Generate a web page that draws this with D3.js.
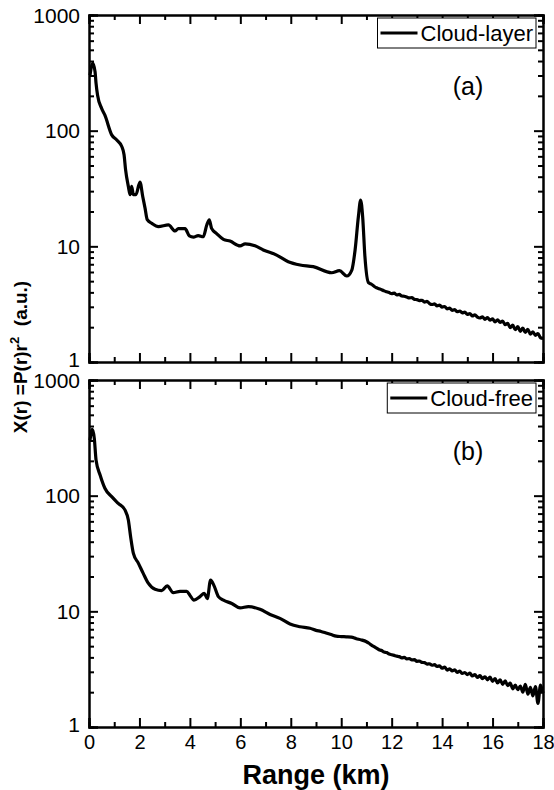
<!DOCTYPE html>
<html>
<head>
<meta charset="utf-8">
<script src="https://cdn.jsdelivr.net/npm/d3@7"></script>
<style>
  body { margin: 0; background: #fff; }
  svg { display: block; font-family: "Liberation Sans", Arial, sans-serif; }
</style>
</head>
<body>
<div id="chart"></div>
<script>
// range (km) and X(r) values, cloud-layer profile (a)
const rangeLayer = [0.04, 0.15, 0.24, 0.28, 0.34, 0.5, 0.63, 0.9, 1.1, 1.3, 1.39, 1.45, 1.56, 1.63, 1.69, 1.76, 1.86, 2.02, 2.13, 2.22, 2.31, 2.49, 2.75, 3.15, 3.41, 3.54, 3.81, 3.98, 4.14, 4.33, 4.53, 4.67, 4.77, 4.86, 5.06, 5.33, 5.59, 5.99, 6.19, 6.58, 6.91, 7.44, 7.9, 8.37, 8.89, 9.62, 9.93, 10.22, 10.42, 10.55, 10.68, 10.77, 10.85, 10.94, 11.08,
  11.2, 11.3, 11.4, 11.5, 11.6, 11.7, 11.8, 11.9, 12.0, 12.1, 12.2, 12.3, 12.4, 12.5, 12.6, 12.7, 12.8, 12.9, 13.0, 13.1, 13.2, 13.3, 13.4, 13.5, 13.6, 13.7, 13.8, 13.9, 14.0, 14.1, 14.2, 14.3, 14.4, 14.5, 14.6, 14.7, 14.8, 14.9, 15.0, 15.1, 15.2, 15.3, 15.4, 15.5, 15.6, 15.7, 15.8, 15.9, 16.0, 16.1, 16.2, 16.3, 16.4, 16.5, 16.6, 16.7, 16.8, 16.9, 17.0, 17.1, 17.2, 17.3, 17.4, 17.5, 17.6, 17.7, 17.8, 17.9, 18.0]
const cloudLayer = [302, 382, 323, 256, 202, 156, 136, 92, 83, 73, 62, 46, 33, 28, 33, 28, 28, 36, 27, 21.5, 17, 15.8, 14.8, 15.3, 13.6, 14.2, 14.2, 12.3, 12.0, 12.4, 12.1, 15.3, 16.9, 14.3, 12.9, 11.5, 11.1, 10.1, 10.5, 10.1, 9.3, 8.4, 7.36, 6.89, 6.67, 5.91, 6.16, 5.54, 6.24, 9.3, 18, 25.1, 18, 8.13, 4.85,
  4.70, 4.52, 4.38, 4.30, 4.22, 4.12, 4.05, 3.98, 3.90, 3.94, 3.80, 3.84, 3.72, 3.70, 3.64, 3.58, 3.60, 3.48, 3.46, 3.40, 3.42, 3.30, 3.34, 3.20, 3.14, 3.18, 3.06, 3.10, 2.98, 3.02, 2.88, 2.92, 2.80, 2.84, 2.72, 2.76, 2.66, 2.70, 2.58, 2.62, 2.50, 2.56, 2.44, 2.40, 2.46, 2.34, 2.42, 2.30, 2.36, 2.22, 2.32, 2.20, 2.26, 2.10, 2.16, 1.98, 2.08, 1.90, 2.02, 1.84, 1.96, 1.80, 1.92, 1.74, 1.82, 1.70, 1.76, 1.62, 1.60]

// cloud-free profile (b)
const rangeFree = [0.04, 0.13, 0.21, 0.28, 0.44, 0.63, 0.9, 1.16, 1.43, 1.56, 1.65, 1.76, 1.96, 2.15, 2.35, 2.62, 2.88, 3.1, 3.34, 3.61, 3.87, 4.0, 4.16, 4.4, 4.57, 4.69, 4.82, 4.96, 5.13, 5.33, 5.66, 5.99, 6.32, 6.78, 7.18, 7.57, 7.97, 8.37, 8.76,
  9.0, 9.2, 9.4, 9.6, 9.8, 10.0, 10.2, 10.4, 10.6, 10.8, 11.0, 11.1, 11.2, 11.3, 11.4, 11.5, 11.6, 11.7, 11.8, 11.9, 12.0, 12.1, 12.2, 12.3, 12.4, 12.5, 12.6, 12.7, 12.8, 12.9, 13.0, 13.1, 13.2, 13.3, 13.4, 13.5, 13.6, 13.7, 13.8, 13.9, 14.0, 14.1, 14.2, 14.3, 14.4, 14.5, 14.6, 14.7, 14.8, 14.9, 15.0, 15.1, 15.2, 15.3, 15.4, 15.5, 15.6, 15.7, 15.8, 15.9, 16.0, 16.1, 16.2, 16.3, 16.4, 16.5, 16.6, 16.7, 16.8, 16.9, 17.0, 17.1, 17.2, 17.3, 17.4, 17.5, 17.6, 17.7, 17.8, 17.9, 18.0]
const cloudFree = [302, 374, 313, 203, 151, 116, 98, 85.7, 75, 61.5, 44.2, 31.7, 26, 21.3, 17.5, 15.5, 15.1, 16.6, 14.5, 14.9, 14.9, 13.8, 12.5, 13.4, 14.3, 12.9, 18.6, 16.6, 13.4, 12.5, 11.7, 10.7, 11.0, 10.4, 9.4, 8.7, 7.77, 7.36, 7.13,
  6.85, 6.70, 6.50, 6.30, 6.10, 6.05, 6.02, 5.98, 5.80, 5.66, 5.46, 5.30, 5.10, 4.95, 4.80, 4.66, 4.58, 4.44, 4.40, 4.28, 4.22, 4.16, 4.10, 4.06, 3.96, 4.00, 3.88, 3.90, 3.80, 3.82, 3.70, 3.72, 3.62, 3.60, 3.50, 3.52, 3.42, 3.46, 3.34, 3.38, 3.22, 3.30, 3.10, 3.18, 3.06, 3.12, 2.96, 3.04, 2.90, 2.96, 2.84, 2.92, 2.76, 2.84, 2.68, 2.78, 2.62, 2.72, 2.56, 2.70, 2.48, 2.62, 2.40, 2.56, 2.34, 2.50, 2.28, 2.40, 2.14, 2.30, 2.10, 2.26, 2.00, 2.34, 1.92, 2.20, 1.86, 2.24, 1.60, 2.30, 1.96]

const xTicks = [0, 2, 4, 6, 8, 10, 12, 14, 16, 18]
const xMinor = [1, 3, 5, 7, 9, 11, 13, 15, 17]
const yTicks = [1, 10, 100, 1000]
const panelNames = ['Cloud-layer', 'Cloud-free']
const panelTags = ['(a)', '(b)']

var width     = 554,
    height    = 790,
    left      = 89,
    right     = 543,
    panelTop  = [15, 380],
    panelH    = 347,
    major     = 9,
    minor     = 5

const svg = d3.select('#chart')
  .append('svg')
  .attr('width', width)
  .attr('height', height)

const x = d3.scaleLinear().domain([0, 18]).range([left, right])

const yMinor = []
;[1, 10, 100].forEach(d => { for (let k = 2; k <= 9; k++) yMinor.push(d * k) })

const series = [
  rangeLayer.map((r, i) => [r, cloudLayer[i]]),
  rangeFree.map((r, i) => [r, cloudFree[i]])
]

series.forEach((pts, p) => {
  const top = panelTop[p]
  const y = d3.scaleLog().domain([1, 1000]).range([top + panelH, top])
  const g = svg.append('g')

  // curve
  const line = d3.line()
    .x(d => x(d[0]))
    .y(d => y(d[1]))
    .curve(d3.curveMonotoneX)

  g.append('path')
    .datum(pts)
    .attr('fill', 'none')
    .attr('stroke', '#000')
    .attr('stroke-width', 3.2)
    .attr('stroke-linejoin', 'round')
    .attr('d', line)

  // axes, ticks point inward
  const addAxis = (axis, tx, ty, fs) => {
    const a = g.append('g')
      .attr('transform', `translate(${tx},${ty})`)
      .call(axis)
    a.selectAll('path.domain').attr('stroke-width', 2)
    a.selectAll('line').attr('stroke-width', 2)
    a.selectAll('text')
      .attr('font-size', fs || 20)
      .attr('font-family', '"Liberation Sans", Arial, sans-serif')
      .attr('fill', '#000')
    return a
  }

  const bottomFmt = p === 1 ? d3.format('d') : () => ''
  addAxis(d3.axisBottom(x).tickValues(xTicks).tickSize(-major).tickPadding(8).tickFormat(bottomFmt), 0, top + panelH, 20)
  addAxis(d3.axisBottom(x).tickValues(xMinor).tickSize(-minor).tickFormat(''), 0, top + panelH)
  addAxis(d3.axisTop(x).tickValues(xTicks).tickSize(-major).tickFormat(''), 0, top)
  addAxis(d3.axisTop(x).tickValues(xMinor).tickSize(-minor).tickFormat(''), 0, top)

  const yAx = addAxis(d3.axisLeft(y).tickValues(yTicks).tickSize(-major).tickPadding(9).tickFormat(d3.format('d')), left, 0, 21)
  // "1" of panel (a) and "1000" of panel (b) sit close together, as in the source
  yAx.selectAll('text').attr('dy', d => d === 1 ? '0.2em' : d === 1000 ? '0.38em' : '0.32em')
  if (p === 0) yAx.selectAll('text').filter(d => d === 1).attr('dy', '0.22em')
  addAxis(d3.axisLeft(y).tickValues(yMinor).tickSize(-minor).tickFormat(''), left, 0)
  addAxis(d3.axisRight(y).tickValues(yTicks).tickSize(-major).tickFormat(''), right, 0)
  addAxis(d3.axisRight(y).tickValues(yMinor).tickSize(-minor).tickFormat(''), right, 0)

  // legend box, right aligned
  const legRight = 536, legTop = top + 3, legH = 30
  const leg = g.append('g')
  const label = leg.append('text')
    .attr('x', legRight - 3)
    .attr('y', legTop + 23)
    .attr('text-anchor', 'end')
    .attr('font-size', 22)
    .text(panelNames[p])
  const tw = label.node().getComputedTextLength()
  const lineEnd = legRight - 3 - tw - 3
  leg.insert('rect', 'text')
    .attr('x', lineEnd - 40)
    .attr('y', legTop)
    .attr('width', legRight - lineEnd + 40)
    .attr('height', legH)
    .attr('fill', '#fff')
    .attr('stroke', '#000')
    .attr('stroke-width', 1)
  leg.append('line')
    .attr('x1', lineEnd - 37)
    .attr('x2', lineEnd)
    .attr('y1', legTop + legH / 2)
    .attr('y2', legTop + legH / 2)
    .attr('stroke', '#000')
    .attr('stroke-width', 3)

  // panel tag
  g.append('text')
    .attr('x', 468)
    .attr('y', top + 80)
    .attr('text-anchor', 'middle')
    .attr('font-size', 25)
    .text(panelTags[p])
})

// axis titles
svg.append('text')
  .attr('x', (left + right) / 2)
  .attr('y', 784)
  .attr('text-anchor', 'middle')
  .attr('font-size', 27)
  .attr('font-weight', 'bold')
  .text('Range (km)')

const yTitle = svg.append('text')
  .attr('transform', 'translate(27,357) rotate(-90)')
  .attr('text-anchor', 'middle')
  .attr('font-size', 19)
  .attr('font-weight', 'bold')
  .attr('xml:space', 'preserve')
yTitle.append('tspan').text('X(r) =P(r)r')
yTitle.append('tspan').attr('font-size', 13).attr('dy', -8).text('2')
yTitle.append('tspan').attr('dy', 8).text('  (a.u.)')
</script>
</body>
</html>
